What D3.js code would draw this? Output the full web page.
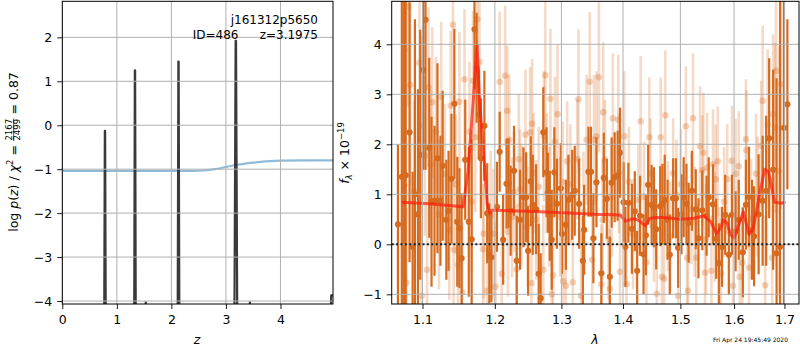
<!DOCTYPE html>
<html>
<head>
<meta charset="utf-8">
<script src="https://cdn.jsdelivr.net/npm/d3@7"></script>
<style>
body { margin: 0; background: #fff; }
svg text { font-family: "DejaVu Sans", sans-serif; }
</style>
</head>
<body>
<svg width="800" height="350"></svg>
<script>
// ---- labels
var objName = "j161312p5650",
    objId = "ID=486",
    zBest = "z=3.1975",
    stamp = "Fri Apr 24 19:45:49 2020";

// ---- left panel: log p(z) peaks + chi2 curve
var pzZ   = [0, 0.768,0.780,0.785,0.797, 1.318,1.330,1.335,1.347, 1.52,1.53,1.54,
             2.115,2.128,2.133,2.146, 3.155,3.178,3.185,3.208, 3.43,3.44,3.45, 4.92,4.93,4.98];
var pzLog = [-4.6, -4.6,-0.13,-0.13,-4.6, -4.6,1.25,1.25,-4.6, -4.6,-4.03,-4.6,
             -4.6,1.45,1.45,-4.6, -4.6,1.92,1.92,-4.6, -4.6,-4.03,-4.6, -4.6,-3.87,-3.87];
var chiZ   = [0, 1, 2, 2.4, 2.6, 2.8, 3.0, 3.2, 3.5, 3.8, 4.0, 4.5, 4.963];
var chiVal = [-1.04,-1.04,-1.04,-1.04,-1.03,-1.0,-0.95,-0.9,-0.85,-0.815,-0.805,-0.80,-0.80];
var zTicks = [0, 1, 2, 3, 4];
var pTicks = [-4, -3, -2, -1, 0, 1, 2];

// ---- right panel: spectrum (dark = first set, light = second set)
var darkLam = [1.068,1.073,1.076,1.078,1.083,1.087,1.090,1.094,1.097,1.101,
  1.104,1.109,1.112,1.116,1.120,1.124,1.127,1.132,1.135,1.139,
  1.143,1.147,1.150,1.153,1.158,1.163,1.167,1.171,1.174,1.177,
  1.180,1.185,1.189,1.192,1.195,1.203,1.207,1.212,1.217,1.220,
  1.223,1.228,1.232,1.237,1.242,1.246,1.249,1.253,1.256,1.261,
  1.265,1.268,1.272,1.277,1.279,1.282,1.285,1.289,1.293,1.299,
  1.301,1.307,1.311,1.317,1.321,1.328,1.334,1.336,1.343,1.347,
  1.351,1.356,1.364,1.368,1.373,1.378,1.381,1.386,1.391,1.395,
  1.401,1.404,1.409,1.415,1.420,1.424,1.429,1.435,1.439,1.443,
  1.449,1.453,1.457,1.464,1.468,1.472,1.477,1.481,1.487,1.492,
  1.496,1.502,1.506,1.511,1.515,1.521,1.528,1.533,1.540,1.548,
  1.552,1.560,1.566,1.571,1.577,1.583,1.590,1.596,1.603,1.609,
  1.617,1.623,1.629,1.635,1.639,1.648,1.656,1.663,1.669,1.677,
  1.684,1.691,1.699,1.706];
var darkFlux = [0.4,1.35,1.17,1.38,2.24,-0.05,1.0,0.6,1.79,3.49,
  4.49,1.93,0.85,0.87,1.72,0.87,1.57,0.49,0.67,1.31,
  2.81,0.45,0.32,-0.28,1.69,0.45,0.1,4.3,3.53,2.6,
  1.72,2.37,0.62,-0.18,-0.26,0.75,1.85,0.09,1.21,1.22,
  0.67,1.47,-0.33,0.49,0.94,0.94,-0.13,1.26,0.79,0.70,
  -0.59,-1.08,2.24,1.44,1.03,0.57,0.09,1.44,0.81,1.12,
  0.21,0.39,0.89,0.99,1.07,0.81,-0.33,0.29,1.45,1.45,
  0.12,1.24,-0.58,1.33,0.91,-0.65,1.23,1.34,1.37,1.83,
  0.84,-0.05,0.83,0.31,0.66,-0.53,0.57,-0.2,0.18,1.19,
  0.79,0.74,0.3,0.76,0.81,0.89,0.49,-0.21,0.92,0.92,
  -0.07,0.6,0.94,0.81,0.43,1.07,0.7,0.12,0.68,0.57,
  0.94,0.8,0.11,-0.38,-0.05,0.59,-0.21,0.59,0.26,0.49,
  -0.16,0.79,0.95,0.29,0.16,0.6,0.87,1.07,2.12,1.49,
  -0.18,-0.05,2.33,2.8];
var darkErr = [1.6,4,4,4,2.6,1.5,3.5,2.5,2.5,2,
  3,1.8,1.7,1.5,1.9,1.3,1.5,1.2,1.2,1.3,
  1.5,1.3,1.2,1.3,1.2,1.5,2,1.2,1.1,0.9,
  1.2,1.1,1,1,0.9,0.9,0.8,0.9,0.9,0.9,
  0.9,0.9,0.9,1,1,0.9,0.9,0.9,1,0.9,
  1,0.9,0.9,0.9,0.8,0.9,1,0.9,0.9,0.9,
  0.8,0.9,0.9,0.9,0.9,0.9,0.9,0.9,0.9,0.9,
  0.9,0.9,0.8,0.9,0.8,0.8,0.9,0.9,0.9,0.9,
  0.8,0.8,0.8,0.9,0.8,0.8,0.8,0.8,0.8,0.8,
  0.8,0.8,0.8,0.8,0.8,0.9,0.8,0.8,0.8,0.8,
  0.8,0.8,0.8,0.8,0.8,0.8,0.8,0.8,0.8,0.8,
  0.8,0.8,0.8,0.8,0.8,0.8,0.8,0.8,0.8,0.8,
  0.9,0.9,1,1,1,1.2,1.3,1.5,1.6,2,
  3.5,5,5,1.7];

var lightLam = [1.075,1.077,1.079,1.081,1.084,1.089,1.096,1.098,1.099,1.103,
  1.106,1.108,1.111,1.113,1.118,1.122,1.125,1.130,1.136,1.138,
  1.141,1.142,1.145,1.148,1.150,1.154,1.157,1.164,1.167,1.169,
  1.172,1.175,1.178,1.183,1.184,1.189,1.194,1.198,1.201,1.207,
  1.210,1.215,1.218,1.219,1.221,1.225,1.228,1.232,1.235,1.237,
  1.239,1.245,1.248,1.252,1.254,1.255,1.257,1.261,1.265,1.272,
  1.273,1.275,1.277,1.281,1.283,1.285,1.287,1.290,1.294,1.298,
  1.302,1.303,1.307,1.309,1.314,1.318,1.325,1.327,1.331,1.335,
  1.340,1.345,1.349,1.352,1.356,1.360,1.364,1.366,1.367,1.370,
  1.376,1.378,1.381,1.383,1.392,1.393,1.395,1.402,1.406,1.410,
  1.417,1.426,1.430,1.436,1.440,1.445,1.447,1.453,1.458,1.465,
  1.467,1.471,1.473,1.478,1.482,1.487,1.493,1.496,1.501,1.510,
  1.512,1.514,1.520,1.523,1.526,1.529,1.536,1.540,1.542,1.545,
  1.547,1.549,1.557,1.560,1.563,1.565,1.569,1.572,1.575,1.581,
  1.587,1.596,1.598,1.603,1.609,1.611,1.616,1.623,1.624,1.629,
  1.633,1.643,1.646,1.653,1.656,1.661,1.666,1.675,1.677,1.681,
  1.683,1.689,1.693];
var lightFlux = [0.35,3.89,-0.77,4.75,3.19,1.07,3.63,2.37,-1.03,1.77,
  -0.51,3.14,1.6,2.84,2.25,0.6,2.95,1.41,0.29,2.77,
  4.39,-0.11,1.2,-0.41,2.85,-0.96,3.3,2.25,0.85,3.27,
  2.14,4.5,3.65,-0.1,0.21,-0.93,0.57,0.21,-0.85,3.25,
  -0.59,3.37,2.67,0.25,2.09,0.54,1.05,-0.5,1.7,1.1,
  0.78,2.19,0.35,2.24,-0.78,2.41,1.43,0.49,1.15,-0.51,
  2.16,3.38,1.42,0.75,2.91,-1.0,-0.62,2.05,2.6,0.55,
  1.25,-0.74,-0.83,1.66,1.2,-0.76,1.7,2.9,-1.03,0.65,
  2.09,3.25,-0.31,2.09,2.16,3.34,-0.8,0.49,2.64,1.69,
  0.09,-0.89,0.95,2.52,2.49,1.42,-0.55,2.16,-0.8,1.25,
  0.2,0.89,2.46,0.95,-0.36,2.14,1.42,0.35,-0.99,2.14,
  -0.65,-0.69,2.58,0.56,0.15,1.42,0.99,-1.03,1.2,2.36,
  -0.27,-0.93,0.7,2.52,0.45,-0.27,1.96,1.48,1.83,-0.57,
  0.1,1.53,-0.53,1.6,0.35,1.3,1.66,-0.36,-0.59,0.85,
  1.3,1.67,-0.83,1.41,1.56,-0.65,-0.37,2.1,1.88,-0.47,
  0.5,1.41,0.95,1.97,2.87,-0.82,2.4,-0.27,2.6,2.33,
  3.47,1.46,3.2];
var lightErr = [1.8,2.0,1.5,2.0,2.0,1.8,1.8,1.8,1.5,1.6,
  1.5,1.6,1.5,1.5,1.5,1.5,1.5,1.4,1.4,1.5,
  1.6,1.4,1.4,1.4,1.4,1.4,1.4,1.4,1.4,1.4,
  1.5,1.5,1.4,1.3,1.3,1.3,1.3,1.3,1.3,1.4,
  1.3,1.4,1.3,1.3,1.3,1.2,1.2,1.3,1.3,1.2,
  1.2,1.3,1.2,1.3,1.3,1.3,1.2,1.2,1.2,1.3,
  1.3,1.5,1.2,1.2,1.4,1.3,1.3,1.3,1.4,1.2,
  1.2,1.3,1.3,1.2,1.2,1.3,1.2,1.4,1.3,1.2,
  1.3,1.4,1.2,1.3,1.3,1.5,1.2,1.2,1.4,1.2,
  1.2,1.2,1.2,1.3,1.3,1.2,1.2,1.3,1.2,1.1,
  1.1,1.1,1.3,1.1,1.2,1.2,1.1,1.1,1.2,1.2,
  1.2,1.2,1.3,1.1,1.1,1.1,1.1,1.2,1.1,1.2,
  1.1,1.2,1.1,1.3,1.1,1.1,1.2,1.1,1.2,1.1,
  1.1,1.1,1.1,1.1,1.1,1.1,1.1,1.1,1.1,1.1,
  1.1,1.1,1.1,1.1,1.1,1.1,1.1,1.2,1.2,1.1,
  1.2,1.2,1.2,1.3,1.5,1.4,1.5,1.6,1.6,1.7,
  1.8,2.5,2.5];

var modelLam = [1.073,1.110,1.155,1.162,1.169,1.1746,1.178,1.1825,1.189,1.193,
  1.196,1.201,1.250,1.303,1.351,1.385,1.396,1.404,1.413,1.420,
  1.428,1.438,1.446,1.455,1.466,1.500,1.525,1.543,1.556,1.567,
  1.575,1.580,1.587,1.593,1.600,1.609,1.618,1.629,1.637,1.646,
  1.660,1.668,1.680,1.693,1.702];
var modelFlux = [0.84,0.81,0.75,1.45,2.84,3.99,2.9,2.07,0.81,0.62,
  0.68,0.68,0.66,0.63,0.6,0.59,0.58,0.46,0.5,0.51,
  0.47,0.37,0.52,0.53,0.54,0.5,0.52,0.57,0.45,0.2,
  0.35,0.49,0.42,0.2,0.13,0.39,0.65,0.2,0.3,0.8,
  1.5,1.44,0.84,0.82,0.85];
var lamTicks = [1.1, 1.2, 1.3, 1.4, 1.5, 1.6, 1.7];
var fTicks = [-1, 0, 1, 2, 3, 4];

var svg = d3.select("svg");
var orange = "#d66a1e", gridCol = "#b0b0b0";

// scales
var zX = d3.scaleLinear().domain([0, 4.963]).range([62.3, 333]);
var zY = d3.scaleLinear().domain([-4.068, 2.82]).range([304, 1.3]);
var lX = d3.scaleLog().domain([1.06, 1.73]).range([391.7, 799]);
var lY = d3.scaleLinear().domain([-1.194, 4.86]).range([304, 1.3]);

var defs = svg.append("defs");
defs.append("clipPath").attr("id", "clipL").append("rect")
    .attr("x", 62.3).attr("y", 1.3).attr("width", 333 - 62.3).attr("height", 304 - 1.3);
defs.append("clipPath").attr("id", "clipR").append("rect")
    .attr("x", 391.7).attr("y", 1.3).attr("width", 799 - 391.7).attr("height", 304 - 1.3);

function grid(g, xs, ys, xt, yt){
    g.selectAll(null).data(xt).enter().append("line")
        .attr("x1", d => xs(d)).attr("x2", d => xs(d))
        .attr("y1", ys.range()[0]).attr("y2", ys.range()[1])
        .attr("stroke", gridCol).attr("stroke-width", 1);
    g.selectAll(null).data(yt).enter().append("line")
        .attr("y1", d => ys(d)).attr("y2", d => ys(d))
        .attr("x1", xs.range()[0]).attr("x2", xs.range()[1])
        .attr("stroke", gridCol).attr("stroke-width", 1);
}

function axes(xs, ys, xt, yt, xf, yf){
    var gx = svg.append("g").attr("transform", "translate(0," + ys.range()[0] + ")")
        .call(d3.axisBottom(xs).tickValues(xt).tickSize(5).tickPadding(6).tickFormat(xf));
    var gy = svg.append("g").attr("transform", "translate(" + xs.range()[0] + ",0)")
        .call(d3.axisLeft(ys).tickValues(yt).tickSize(5).tickPadding(5).tickFormat(yf));
    [gx, gy].forEach(function(g){
        g.select(".domain").remove();
        g.attr("font-family", null).attr("font-size", 12.5);
        g.selectAll("text").attr("fill", "#000");
        g.selectAll("line").attr("stroke", "#000").attr("stroke-width", 0.9);
    });
    svg.append("rect")
        .attr("x", xs.range()[0]).attr("y", ys.range()[1])
        .attr("width", xs.range()[1] - xs.range()[0])
        .attr("height", ys.range()[0] - ys.range()[1])
        .attr("fill", "none").attr("stroke", "#000").attr("stroke-width", 1);
}

// ---------- left panel
var left = svg.append("g").attr("clip-path", "url(#clipL)");
var chiData = chiZ.map((z, i) => [z, chiVal[i]]);
left.append("path").datum(chiData)
    .attr("d", d3.line().x(d => zX(d[0])).y(d => zY(d[1])).curve(d3.curveMonotoneX))
    .attr("fill", "none").attr("stroke", "#1f77b4").attr("stroke-opacity", 0.5)
    .attr("stroke-width", 2.2);
var pzData = pzZ.map((z, i) => [z, pzLog[i]]);
left.append("path").datum(pzData)
    .attr("d", d3.line().x(d => zX(d[0])).y(d => zY(d[1])))
    .attr("fill", "none")
    .attr("stroke", "#3a3a3a").attr("stroke-width", 2.2).attr("stroke-linejoin", "round");
grid(left, zX, zY, zTicks, pTicks);

left.append("text").attr("x", 318).attr("y", 24).attr("text-anchor", "end")
    .attr("font-size", 12).text(objName);
left.append("text").attr("x", 238.5).attr("y", 38.5).attr("text-anchor", "end")
    .attr("font-size", 12).text(objId);
left.append("text").attr("x", 318).attr("y", 38.5).attr("text-anchor", "end")
    .attr("font-size", 12).text(zBest);

axes(zX, zY, zTicks, pTicks, d3.format("d"), d3.format("d"));

svg.append("text").attr("x", 197).attr("y", 343.5).attr("text-anchor", "middle")
    .attr("font-size", 12.5).attr("font-style", "italic").text("z");

// y label: log p(z) / chi2 = frac = 0.87
var yl = svg.append("g");
var t1 = yl.append("text").attr("font-size", 12.5).style("white-space", "pre");
t1.append("tspan").text("log ");
t1.append("tspan").attr("font-style", "italic").text("p");
t1.append("tspan").text("(");
t1.append("tspan").attr("font-style", "italic").text("z");
t1.append("tspan").text(") / ");
t1.append("tspan").attr("font-style", "italic").text("χ");
t1.append("tspan").attr("dy", -5).attr("font-size", 8.5).text("2");
t1.append("tspan").attr("dy", 5).text(" = ");
var w1 = t1.node().getComputedTextLength();
var num = yl.append("text").attr("font-size", 8.5).attr("text-anchor", "middle").text("2167");
var fw = num.node().getComputedTextLength() + 1;
num.attr("x", w1 + fw / 2).attr("y", -6.5);
yl.append("text").attr("font-size", 8.5).attr("text-anchor", "middle")
    .attr("x", w1 + fw / 2).attr("y", 1.8).text("2499");
yl.append("line").attr("x1", w1).attr("x2", w1 + fw).attr("y1", -4.6).attr("y2", -4.6)
    .attr("stroke", "#000").attr("stroke-width", 0.7);
var t3 = yl.append("text").attr("font-size", 12.5).style("white-space", "pre")
    .attr("x", w1 + fw).text(" = 0.87");
var tot = w1 + fw + t3.node().getComputedTextLength();
yl.attr("transform", "translate(18.3," + (152 + tot / 2) + ") rotate(-90)");

// ---------- right panel
var right = svg.append("g").attr("clip-path", "url(#clipR)");

var light = lightLam.map((l, i) => ({l: l, f: lightFlux[i], e: lightErr[i]}));
var dark = darkLam.map((l, i) => ({l: l, f: darkFlux[i], e: darkErr[i]}));

right.append("g").selectAll("line").data(light).enter().append("line")
    .attr("x1", d => lX(d.l)).attr("x2", d => lX(d.l))
    .attr("y1", d => lY(d.f - d.e)).attr("y2", d => lY(d.f + d.e))
    .attr("stroke", orange).attr("stroke-opacity", 0.25).attr("stroke-width", 2.6);
right.append("g").selectAll("circle").data(light).enter().append("circle")
    .attr("cx", d => lX(d.l)).attr("cy", d => lY(d.f)).attr("r", 3.3)
    .attr("fill", orange).attr("fill-opacity", 0.3);

right.append("g").selectAll("line").data(dark).enter().append("line")
    .attr("x1", d => lX(d.l)).attr("x2", d => lX(d.l))
    .attr("y1", d => lY(d.f - d.e)).attr("y2", d => lY(d.f + d.e))
    .attr("stroke", orange).attr("stroke-width", 2.2);
right.append("g").selectAll("circle").data(dark).enter().append("circle")
    .attr("cx", d => lX(d.l)).attr("cy", d => lY(d.f)).attr("r", 3.1)
    .attr("fill", orange);

var model = modelLam.map((l, i) => [l, modelFlux[i]]);
right.append("path").datum(model)
    .attr("d", d3.line().x(d => lX(d[0])).y(d => lY(d[1])))
    .attr("fill", "none").attr("stroke", "#ff1a0a").attr("stroke-opacity", 0.7)
    .attr("stroke-width", 3).attr("stroke-linejoin", "round");

grid(right, lX, lY, lamTicks, fTicks);
right.append("line").attr("x1", 391.7).attr("x2", 799).attr("y1", lY(0)).attr("y2", lY(0))
    .attr("stroke", "#000").attr("stroke-width", 2).attr("stroke-dasharray", "2,2.4")
    .attr("stroke-opacity", 0.85);

axes(lX, lY, lamTicks, fTicks, d3.format(".1f"), d3.format("d"));

svg.append("text").attr("x", 595).attr("y", 343.5).attr("text-anchor", "middle")
    .attr("font-size", 12.5).attr("font-style", "italic").text("λ");

var yr = svg.append("g");
var tr = yr.append("text").attr("font-size", 12.5).style("white-space", "pre");
tr.append("tspan").attr("font-style", "italic").text("f");
tr.append("tspan").attr("font-style", "italic").attr("font-size", 8.5).attr("dy", 3).text("λ");
tr.append("tspan").attr("dy", -3).text(" × 10");
tr.append("tspan").attr("font-size", 8.5).attr("dy", -5.5).text("−19");
var trw = tr.node().getComputedTextLength();
yr.attr("transform", "translate(349," + (153 + trw / 2) + ") rotate(-90)");

svg.append("text").attr("x", 788).attr("y", 342).attr("text-anchor", "end")
    .attr("font-size", 6).text(stamp);
</script>
</body>
</html>
